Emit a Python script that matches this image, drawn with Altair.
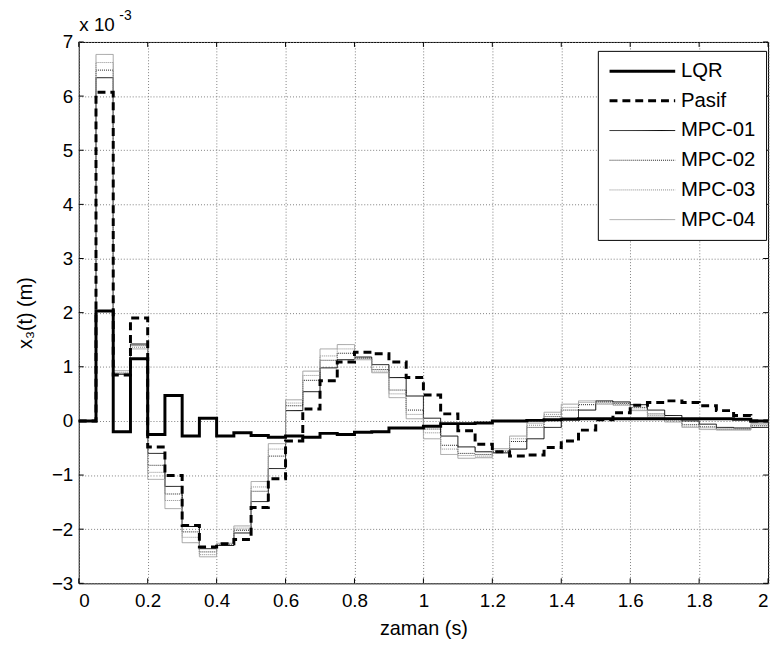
import altair as alt
import pandas as pd

# sample instants (s)
time = [0.00, 0.05, 0.10, 0.15, 0.20, 0.25, 0.30, 0.35, 0.40, 0.45,
        0.50, 0.55, 0.60, 0.65, 0.70, 0.75, 0.80, 0.85, 0.90, 0.95,
        1.00, 1.05, 1.10, 1.15, 1.20, 1.25, 1.30, 1.35, 1.40, 1.45,
        1.50, 1.55, 1.60, 1.65, 1.70, 1.75, 1.80, 1.85, 1.90, 1.95, 2.00]

# values in units of 1e-3 m (one per sample interval)
lqr = [0.0, 2.03, -0.2, 1.15, -0.25, 0.47, -0.28, 0.05, -0.28, -0.22,
       -0.27, -0.3, -0.28, -0.3, -0.23, -0.25, -0.21, -0.2, -0.13, -0.13,
       -0.1, -0.05, -0.05, -0.04, 0.0, 0.0, 0.01, 0.02, 0.03, 0.04,
       0.04, 0.04, 0.04, 0.04, 0.04, 0.04, 0.04, 0.04, 0.03, 0.0]
pasif = [0.0, 6.07, 0.85, 1.9, -0.48, -1.01, -1.93, -2.33, -2.27, -2.19,
         -1.6, -1.07, -0.37, 0.22, 0.74, 1.09, 1.27, 1.24, 1.09, 0.8,
         0.48, 0.13, -0.18, -0.43, -0.57, -0.65, -0.63, -0.49, -0.37, -0.17,
         0.02, 0.15, 0.29, 0.34, 0.37, 0.34, 0.28, 0.19, 0.1, 0.0]
mpc01 = [0.0, 6.34, 0.86, 1.42, -0.6, -1.21, -1.95, -2.36, -2.3, -2.07,
         -1.49, -0.88, 0.19, 0.54, 0.98, 1.13, 1.18, 1.04, 0.8, 0.46,
         0.05, -0.28, -0.48, -0.57, -0.59, -0.52, -0.33, -0.12, 0.05, 0.2,
         0.37, 0.35, 0.3, 0.2, 0.1, 0.0, -0.06, -0.12, -0.13, -0.12]
mpc02 = [0.0, 6.48, 0.88, 1.39, -0.82, -1.35, -2.05, -2.42, -2.29, -2.02,
         -1.3, -0.65, 0.28, 0.75, 1.12, 1.25, 1.16, 0.95, 0.57, 0.2,
         -0.15, -0.45, -0.6, -0.62, -0.56, -0.38, -0.12, 0.08, 0.2, 0.3,
         0.35, 0.32, 0.25, 0.13, 0.03, -0.07, -0.11, -0.15, -0.15, -0.09]
mpc03 = [0.0, 6.62, 0.9, 1.36, -0.95, -1.47, -2.15, -2.47, -2.28, -1.98,
         -1.22, -0.52, 0.33, 0.84, 1.2, 1.33, 1.15, 0.92, 0.5, 0.12,
         -0.22, -0.52, -0.64, -0.65, -0.54, -0.33, -0.08, 0.12, 0.25, 0.34,
         0.33, 0.3, 0.22, 0.1, 0.0, -0.1, -0.13, -0.16, -0.16, -0.07]
mpc04 = [0.0, 6.77, 0.93, 1.33, -1.08, -1.62, -2.25, -2.51, -2.26, -1.94,
         -1.12, -0.42, 0.39, 0.92, 1.33, 1.41, 1.13, 0.89, 0.43, 0.04,
         -0.33, -0.62, -0.69, -0.68, -0.51, -0.28, -0.04, 0.16, 0.31, 0.37,
         0.31, 0.29, 0.19, 0.07, -0.02, -0.12, -0.16, -0.17, -0.17, -0.05]

names = ["LQR", "Pasif", "MPC-01", "MPC-02", "MPC-03", "MPC-04"]
series = [lqr, pasif, mpc01, mpc02, mpc03, mpc04]

x_ticks = [0, 0.2, 0.4, 0.6, 0.8, 1.0, 1.2, 1.4, 1.6, 1.8, 2.0]
y_ticks = [-3, -2, -1, 0, 1, 2, 3, 4, 5, 6, 7]

rows = []
for name, vals in zip(names, series):
    ext = vals + [vals[-1]]
    for t, v in zip(time, ext):
        rows.append({"t": t, "v": v, "s": name})
df = pd.DataFrame(rows)

W = 696.5
H = 547
FONT = "Liberation Sans"
FS = 19

legend = alt.Legend(
    title=None, orient="none", legendX=524.5, legendY=9,
    symbolType="stroke", symbolSize=4400, labelFontSize=20.5, labelFont=FONT,
    labelColor="black", strokeColor="black", fillColor="white",
    padding=10, rowPadding=9, labelOffset=4, clipHeight=21,
)

xenc = alt.X("t:Q", scale=alt.Scale(domain=[0, 2], nice=False, zero=False),
             axis=alt.Axis(values=x_ticks, format="~g", title="zaman (s)",
                           tickSize=0, domain=False, grid=True,
                           labelPadding=8, titlePadding=9))
yenc = alt.Y("v:Q", scale=alt.Scale(domain=[-3, 7], nice=False, zero=False),
             axis=alt.Axis(values=y_ticks, format="d", title="x₃(t) (m)",
                           tickSize=0, domain=False, grid=True,
                           labelPadding=6, titlePadding=16))
cenc = alt.Color("s:N", scale=alt.Scale(domain=names,
                 range=["#000000", "#000000", "#000000", "#222222", "#8a8a8a", "#a0a0a0"]),
                 legend=legend)
denc = alt.StrokeDash("s:N", scale=alt.Scale(domain=names,
                      range=[[1, 0], [8, 5], [1, 0], [1, 1], [1, 1], [1, 0]]),
                      legend=legend)
wenc = alt.StrokeWidth("s:N", scale=alt.Scale(type="ordinal", domain=names,
                       range=[3, 3, 1, 1, 1, 1]),
                       legend=legend)

base = alt.Chart(df)


def lines(sel):
    return base.transform_filter(alt.FieldOneOfPredicate(field="s", oneOf=sel)).mark_line(
        interpolate="step-after", strokeCap="butt", strokeJoin="miter"
    ).encode(x=xenc, y=yenc, color=cenc, strokeDash=denc, strokeWidth=wenc)


mpc_layer = lines(["MPC-04", "MPC-03", "MPC-02", "MPC-01"])
pasif_layer = lines(["Pasif"])
lqr_layer = lines(["LQR"])

xt = pd.DataFrame({"t": x_ticks})
yt = pd.DataFrame({"v": y_ticks})
tick_b = alt.Chart(xt).mark_rule(color="black", strokeWidth=1).encode(
    x="t:Q", y=alt.value(H), y2=alt.value(H - 5))
tick_t = alt.Chart(xt).mark_rule(color="black", strokeWidth=1).encode(
    x="t:Q", y=alt.value(0), y2=alt.value(5))
tick_l = alt.Chart(yt).mark_rule(color="black", strokeWidth=1).encode(
    y="v:Q", x=alt.value(0), x2=alt.value(5))
tick_r = alt.Chart(yt).mark_rule(color="black", strokeWidth=1).encode(
    y="v:Q", x=alt.value(W), x2=alt.value(W - 5))

exp_main = alt.Chart(pd.DataFrame({"txt": ["x 10"]})).mark_text(
    align="left", baseline="alphabetic", font=FONT, fontSize=FS, color="black"
).encode(text="txt:N", x=alt.value(0.5), y=alt.value(-11))
exp_sup = alt.Chart(pd.DataFrame({"txt": ["-3"]})).mark_text(
    align="left", baseline="alphabetic", font=FONT, fontSize=14, color="black"
).encode(text="txt:N", x=alt.value(41), y=alt.value(-22))

chart = alt.layer(
    mpc_layer, pasif_layer, lqr_layer, tick_b, tick_t, tick_l, tick_r, exp_main, exp_sup
).properties(
    width=W, height=H,
    background="white",
    autosize=alt.AutoSizeParams(type="none"),
    padding={"left": 71.5, "top": 31, "right": 6, "bottom": 59},
).configure_view(
    stroke="black", strokeWidth=1
).configure_axis(
    labelFont=FONT, labelFontSize=FS, labelColor="black",
    titleFont=FONT, titleFontSize=20, titleColor="black", titleFontWeight="normal",
    gridColor="#808080", gridDash=[1, 2], gridWidth=1, gridOpacity=1,
)

chart.save("out.html", embed_options={"renderer": "svg", "actions": False})
